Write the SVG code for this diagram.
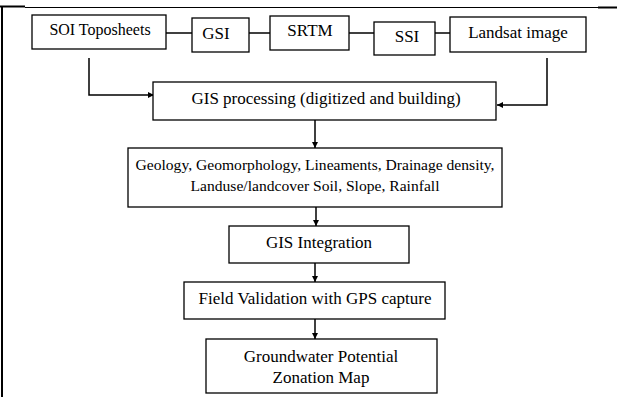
<svg xmlns="http://www.w3.org/2000/svg" width="617" height="397" viewBox="0 0 617 397">
<style>
.b{fill:#fff;stroke:#000;stroke-width:1.3}
.t{font-family:"Liberation Serif","Times New Roman",serif;font-size:17px;fill:#000;text-anchor:middle}
.s{font-size:15.6px}
.m{font-size:16px}
.c{fill:none;stroke:#000;stroke-width:1.5}
.f{stroke:#000;fill:none}
</style>
<defs>
<marker id="a" viewBox="0 0 10 10" refX="10" refY="5" markerWidth="6" markerHeight="6" orient="auto" markerUnits="userSpaceOnUse">
<path d="M0,0 L10,5 L0,10 Z" fill="#000"/>
</marker>
</defs>
<g id="frame">
<line class="f" x1="0" y1="6.5" x2="25" y2="6.5" stroke-width="2"/>
<line class="f" x1="25" y1="7.5" x2="598" y2="7.5" stroke-width="1"/>
<line class="f" x1="598" y1="7.5" x2="617" y2="7.5" stroke-width="2"/>
<line class="f" x1="2" y1="7" x2="2" y2="397" stroke-width="2"/>
</g>
<g id="connectors">
<line class="c" x1="166" y1="33" x2="192" y2="33"/>
<line class="c" x1="249" y1="33" x2="270" y2="33"/>
<line class="c" x1="349" y1="33" x2="374" y2="33"/>
<line class="c" x1="435" y1="33" x2="450" y2="33"/>
<polyline class="c" points="89,58 89,95 154,95" marker-end="url(#a)"/>
<polyline class="c" points="547,58 547,105 497,105" marker-end="url(#a)"/>
<line class="c" x1="315" y1="120" x2="315" y2="148" marker-end="url(#a)"/>
<line class="c" x1="316" y1="207" x2="316" y2="226" marker-end="url(#a)"/>
<line class="c" x1="315" y1="263" x2="315" y2="282" marker-end="url(#a)"/>
<line class="c" x1="315" y1="319" x2="315" y2="339" marker-end="url(#a)"/>
</g>
<g id="soi"><rect class="b" x="32" y="15" width="134" height="34"/><text class="t m" x="100" y="35">SOI Toposheets</text></g>
<g id="gsi"><rect class="b" x="192" y="18" width="57" height="34"/><text class="t" x="216" y="39">GSI</text></g>
<g id="srtm"><rect class="b" x="270" y="16" width="79" height="34"/><text class="t" x="310" y="36">SRTM</text></g>
<g id="ssi"><rect class="b" x="374" y="22" width="61" height="33"/><text class="t" x="407" y="42">SSI</text></g>
<g id="landsat"><rect class="b" x="450" y="17" width="136" height="35"/><text class="t" x="518" y="38">Landsat image</text></g>
<g id="gisproc"><rect class="b" x="153" y="82" width="343" height="38"/><text class="t" x="326" y="104">GIS processing (digitized and building)</text></g>
<g id="layers"><rect class="b" x="128" y="148" width="374" height="59"/><text class="t s" x="315" y="170">Geology, Geomorphology, Lineaments, Drainage density,</text><text class="t s" x="315" y="191">Landuse/landcover Soil, Slope, Rainfall</text></g>
<g id="integration"><rect class="b" x="229" y="226" width="180" height="37"/><text class="t" x="319" y="248">GIS Integration</text></g>
<g id="field"><rect class="b" x="184" y="282" width="261" height="37"/><text class="t" x="315" y="304">Field Validation with GPS capture</text></g>
<g id="map"><rect class="b" x="206" y="339" width="231" height="54"/><text class="t" x="321" y="362">Groundwater Potential</text><text class="t" x="321" y="383">Zonation Map</text></g>
</svg>
